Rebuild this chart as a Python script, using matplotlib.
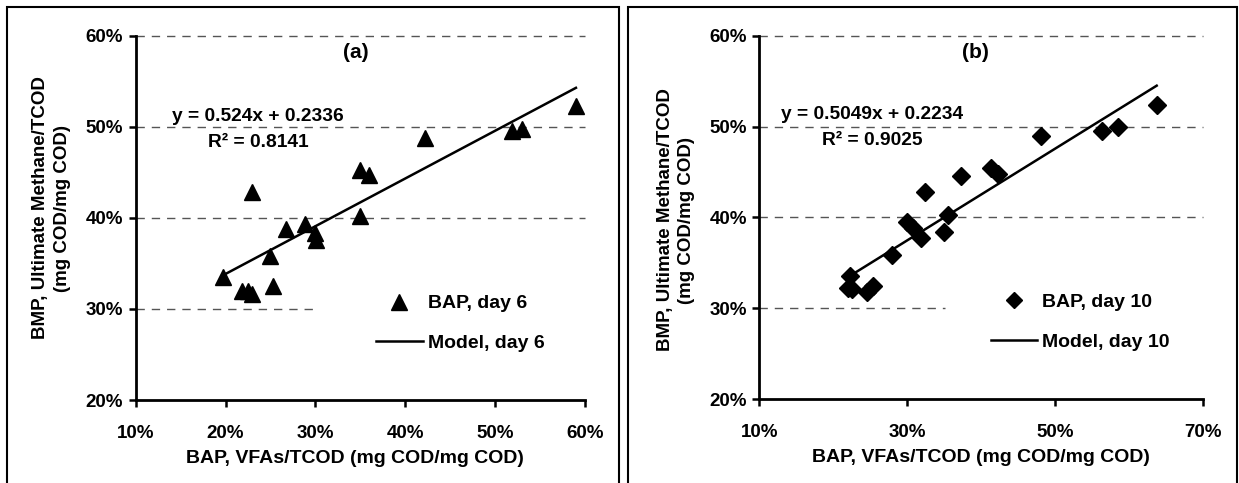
import matplotlib
matplotlib.use("Agg")
import matplotlib.pyplot as plt
import numpy as np
from matplotlib.patches import Rectangle
from matplotlib.ticker import FuncFormatter

plt.rcParams['font.family'] = ['Liberation Sans', 'DejaVu Sans']
plt.rcParams['font.weight'] = 'bold'

# panel (a): BAP day 6 (values in %)
x_day6 = [19.7, 21.8, 22.5, 22.9, 22.9, 25.3, 24.9, 26.7, 28.9, 30.0, 30.1,
          35.0, 35.0, 36.0, 42.2, 51.9, 53.0, 59.0]
y_day6 = [33.5, 32.0, 32.0, 31.6, 42.8, 32.5, 35.8, 38.8, 39.3, 38.3, 37.6,
          40.2, 45.3, 44.7, 48.8, 49.5, 49.8, 52.3]
fit_day6 = (0.524, 0.2336)
r2_day6 = 0.8141

# panel (b): BAP day 10 (values in %)
x_day10 = [22.3, 22.0, 22.5, 24.5, 25.4, 27.9, 29.9, 30.8, 31.9, 32.4, 35.0,
           35.5, 37.3, 41.3, 42.2, 48.1, 56.3, 58.5, 63.7]
y_day10 = [33.6, 32.2, 32.1, 31.8, 32.5, 35.9, 39.5, 38.8, 37.7, 42.8, 38.4,
           40.3, 44.6, 45.4, 44.8, 49.0, 49.5, 50.0, 52.4]
fit_day10 = (0.5049, 0.2234)
r2_day10 = 0.9025

fig = plt.figure(figsize=(12.39, 4.83), dpi=100)

# panel borders
fig.patches.append(Rectangle((0.0057, -0.02), 0.4939, 1.0055, transform=fig.transFigure,
                             fill=False, edgecolor='black', lw=1.5))
fig.patches.append(Rectangle((0.5069, -0.02), 0.4915, 1.0055, transform=fig.transFigure,
                             fill=False, edgecolor='black', lw=1.5))

ax1 = fig.add_axes([0.1095, 0.1718, 0.3626, 0.7543])
ax2 = fig.add_axes([0.6128, 0.1733, 0.3584, 0.7528])

pct = FuncFormatter(lambda v, p: "%d%%" % round(v))


def draw_panel(ax, xs, ys, fit, r2, marker, ms, xlim, xticks, grid30_end,
               tag, eq_pos, tag_pos, leg_anchor, day, mscale):
    ax.set_xlim(*xlim)
    ax.set_ylim(20, 60)
    for g in [40, 50, 60]:
        ax.axhline(g, color='#555555', lw=1, dashes=(6, 5), zorder=1, clip_on=False)
    ax.axhline(30, xmax=grid30_end, color='#555555', lw=1, dashes=(6, 5), zorder=1)

    ax.plot(xs, ys, linestyle='none', marker=marker, ms=ms, color='black',
            label="BAP, day %d" % day, zorder=3)
    xx = np.array([min(xs), max(xs)])
    ax.plot(xx, (fit[0] * xx / 100 + fit[1]) * 100, color='black', lw=1.8,
            label="Model, day %d" % day, zorder=2)

    ax.text(eq_pos[0], eq_pos[1], "y = %gx + %g" % fit, ha='center', va='center',
            fontsize=13.8, fontweight='bold')
    ax.text(eq_pos[0], eq_pos[1] - 2.85, "R² = %g" % r2, ha='center', va='center',
            fontsize=13.8, fontweight='bold')
    ax.text(tag_pos[0], tag_pos[1], tag, ha='center', va='center',
            fontsize=15, fontweight='bold')

    ax.spines['top'].set_visible(False)
    ax.spines['right'].set_visible(False)
    ax.spines['left'].set_linewidth(2)
    ax.spines['bottom'].set_linewidth(2)
    ax.set_xticks(xticks)
    ax.set_yticks([20, 30, 40, 50, 60])
    ax.xaxis.set_major_formatter(pct)
    ax.yaxis.set_major_formatter(pct)
    ax.tick_params(axis='both', direction='out', length=5, width=1.8,
                   labelsize=13.5)
    ax.tick_params(axis='x', pad=13)
    ax.tick_params(axis='y', pad=4)

    ax.set_xlabel("BAP, VFAs/TCOD (mg COD/mg COD)", fontsize=14, fontweight='bold')
    ax.set_ylabel("BMP, Ultimate Methane/TCOD\n(mg COD/mg COD)", fontsize=13.5,
                  fontweight='bold', linespacing=1.35)

    ax.legend(loc='center left', bbox_to_anchor=leg_anchor, frameon=False,
              borderpad=0, borderaxespad=0, handlelength=2.4,
              handletextpad=0.25, labelspacing=1.15, markerscale=mscale,
              prop={'size': 14, 'weight': 'bold'})
    return ax


draw_panel(ax1, x_day6, y_day6, fit_day6, r2_day6, '^', 11.5, (10, 60),
           [10, 20, 30, 40, 50, 60], 0.394, "(a)", (23.6, 51.1), (34.5, 58.2),
           (0.535, 0.21), 6, 0.95)
ax1.yaxis.set_label_coords(-0.145, 0.527)
ax1.xaxis.set_label_coords(0.488, -0.136)

draw_panel(ax2, x_day10, y_day10, fit_day10, r2_day10, 'D', 9, (10, 70),
           [10, 30, 50, 70], 0.418, "(b)", (25.2, 51.3), (39.15, 58.2),
           (0.521, 0.212), 10, 0.85)
ax2.yaxis.set_label_coords(-0.144, 0.493)
ax2.xaxis.set_label_coords(0.5, -0.136)

fig.savefig("out.png", dpi=100)
